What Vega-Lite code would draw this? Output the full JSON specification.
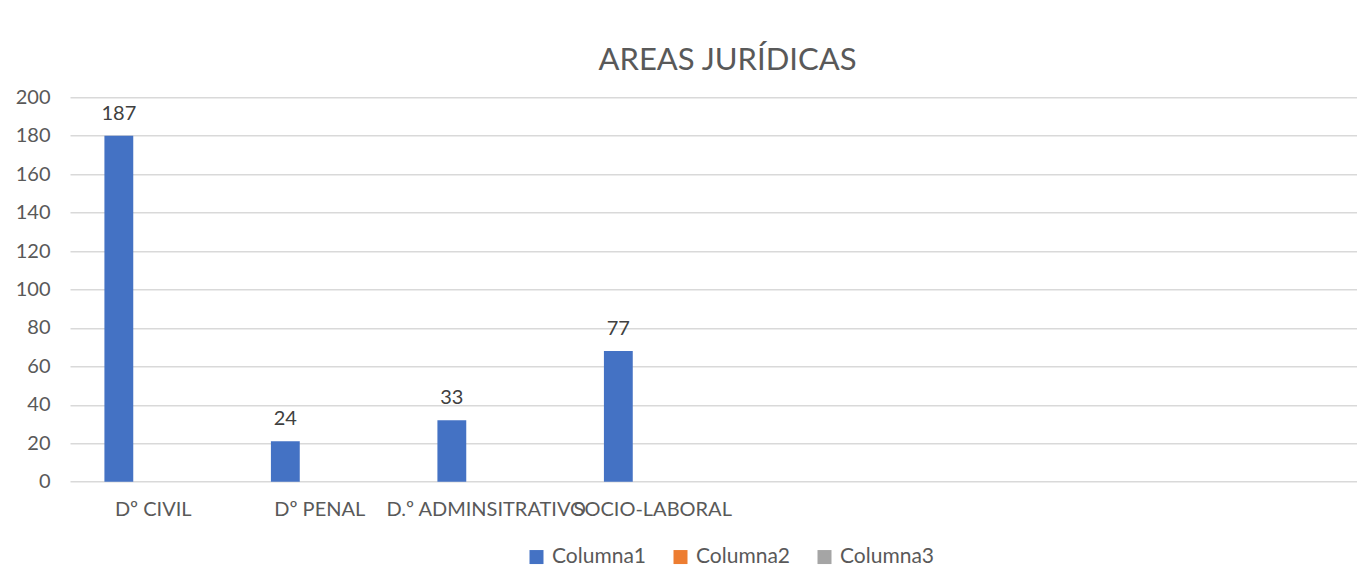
{
  "$schema": "https://vega.github.io/schema/vega-lite/v6.json",
  "width": 1287,
  "height": 384.4,
  "autosize": {"type": "none"},
  "padding": {"left": 70, "top": 97.3, "right": 0, "bottom": 104.3},
  "background": "white",
  "title": {
    "text": "AREAS JURÍDICAS",
    "font": "Lato",
    "fontSize": 31,
    "fontWeight": "normal",
    "color": "#595959",
    "anchor": "middle",
    "frame": "group",
    "baseline": "alphabetic",
    "offset": 22,
    "dx": 14,
    "dy": 36
  },
  "data": {
    "values": [
      {"area": "Dº CIVIL", "serie": "Columna1", "valor": 180, "etiqueta": "187"},
      {"area": "Dº PENAL", "serie": "Columna1", "valor": 21, "etiqueta": "24"},
      {"area": "D.º ADMINSITRATIVO", "serie": "Columna1", "valor": 32, "etiqueta": "33"},
      {"area": "SOCIO-LABORAL", "serie": "Columna1", "valor": 68, "etiqueta": "77"}
    ]
  },
  "encoding": {
    "x": {
      "field": "area",
      "type": "nominal",
      "sort": null,
      "scale": {
        "domain": ["Dº CIVIL", "Dº PENAL", "D.º ADMINSITRATIVO", "SOCIO-LABORAL", " ", "  ", "   ", "    "],
        "range": [0, 1332],
        "paddingInner": 0,
        "paddingOuter": 0
      },
      "axis": {
        "title": null,
        "domain": false,
        "ticks": false,
        "grid": false,
        "labelAngle": 0,
        "labelFont": "Lato",
        "labelFontSize": 20,
        "labelColor": "#595959",
        "labelPadding": 18,
        "labelOverlap": false,
        "labelBound": false,
        "labelFlush": false,
        "labelLimit": 400,
        "labelDx": 3
      }
    },
    "xOffset": {
      "field": "serie",
      "type": "nominal",
      "scale": {
        "domain": ["Columna1", "Columna2", "Columna3"],
        "paddingInner": 0.162,
        "paddingOuter": 1.03
      }
    },
    "y": {
      "field": "valor",
      "type": "quantitative",
      "scale": {"domain": [0, 200], "nice": false},
      "axis": {
        "title": null,
        "domain": false,
        "ticks": false,
        "values": [0, 20, 40, 60, 80, 100, 120, 140, 160, 180, 200],
        "grid": true,
        "gridColor": "#d9d9d9",
        "gridWidth": 1.5,
        "labelFont": "Lato",
        "labelFontSize": 20,
        "labelColor": "#595959",
        "labelPadding": 20
      }
    }
  },
  "layer": [
    {
      "mark": {"type": "bar"},
      "encoding": {
        "color": {
          "field": "serie",
          "type": "nominal",
          "scale": {
            "domain": ["Columna1", "Columna2", "Columna3"],
            "range": ["#4472C4", "#ED7D31", "#A5A5A5"]
          },
          "legend": {
            "title": null,
            "orient": "none",
            "legendX": 456,
            "legendY": 449,
            "direction": "horizontal",
            "symbolType": "square",
            "symbolSize": 196,
            "symbolStrokeWidth": 0,
            "labelFont": "Lato",
            "labelFontSize": 21,
            "labelColor": "#595959",
            "labelOffset": 5,
            "columnPadding": 24,
            "padding": 0
          }
        }
      }
    },
    {
      "mark": {
        "type": "text",
        "dy": -16,
        "baseline": "alphabetic",
        "font": "Lato",
        "fontSize": 20,
        "color": "#404040"
      },
      "encoding": {
        "text": {"field": "etiqueta", "type": "nominal"}
      }
    }
  ],
  "config": {
    "view": {"stroke": null}
  }
}
